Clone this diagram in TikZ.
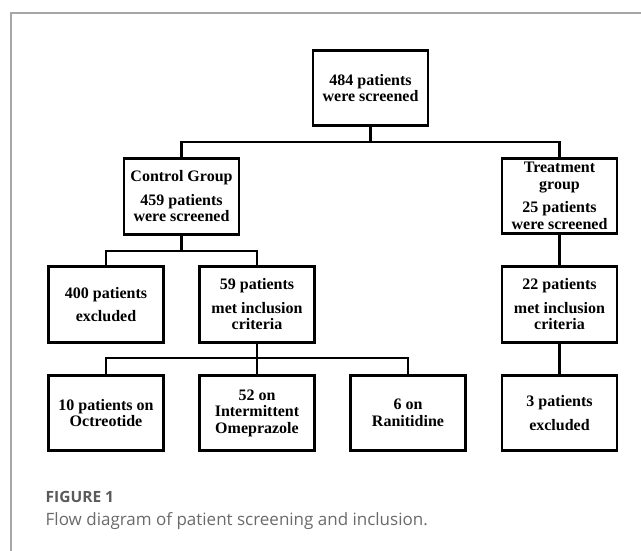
\documentclass[tikz,border=0pt]{standalone}
\usepackage{fontspec}
\setmainfont{Liberation Serif}
\newfontfamily\captionfont{Open Sans}
\usetikzlibrary{calc}
\definecolor{framegray}{HTML}{A6A6A6}
\definecolor{labelgray}{HTML}{5A5A5A}
\definecolor{textgray}{HTML}{6A6A6A}

\begin{document}
\begin{tikzpicture}[x=1pt, y=-1pt,
        box/.style={draw, line width=2.6pt, minimum width=115pt,
            minimum height=75.5pt, inner sep=1pt, align=center,
            font=\bfseries\fontsize{16}{16.5}\selectfont},
        link/.style={line width=2.6pt}]
    \useasboundingbox (0, 0) rectangle (641, 551);
    \draw [framegray, line width=1.2pt] (641, 13) -- (11, 13) -- (11, 551);

    \node [box] (screened) at (370.5, 88) {484 patients\\were screened};
    \node [box] (control) at (181.5, 196.5)
        {Control Group\\[7pt]459 patients\\were screened};
    \node [box] (treatment) at (559.5, 196)
        {Treatment\\group\\[7pt]25 patients\\were screened};

    \node [box] (excl400) at (106, 304.5) {400 patients\\[7pt]excluded};
    \node [box] (incl59) at (257, 304.5)
        {59 patients\\[7pt]met inclusion\\criteria};
    \node [box] (incl22) at (559.5, 304.5)
        {22 patients\\[7pt]met inclusion\\criteria};

    \node [box] (octreo) at (106, 413) {10 patients on\\Octreotide};
    \node [box] (omepr) at (257, 413) {52 on\\Intermittent\\Omeprazole};
    \node [box] (ranit) at (408, 413) {6 on\\Ranitidine};
    \node [box] (excl3) at (559.5, 413) {3 patients\\[7pt]excluded};

    % branching points
    \coordinate (splitA) at (370.5, 142);
    \coordinate (splitB) at (181.5, 251);
    \coordinate (splitC) at (257, 358);

    \draw [link] (screened) -- (splitA) -| (control);
    \draw [link] (splitA) -| (treatment);
    \draw [link] (control) -- (splitB) -| (excl400);
    \draw [link] (splitB) -| (incl59);
    \draw [link] (incl59) -- (splitC) -| (octreo);
    \draw [link] (splitC) -- (omepr);
    \draw [link] (splitC) -| (ranit);
    \draw [link] (treatment) -- (incl22);
    \draw [link] (incl22) -- (excl3);

    \node [anchor=base west, inner sep=0, text=labelgray,
           font=\captionfont\bfseries\fontsize{15.5}{17}\selectfont]
        (figlabel) at (45.5, 502) {FIGURE 1};
    \node [anchor=base west, inner sep=0, text=textgray,
           font=\captionfont\fontsize{17}{20}\selectfont]
        (figtext) at (45.5, 525) {Flow diagram of patient screening and inclusion.};
\end{tikzpicture}
\end{document}
